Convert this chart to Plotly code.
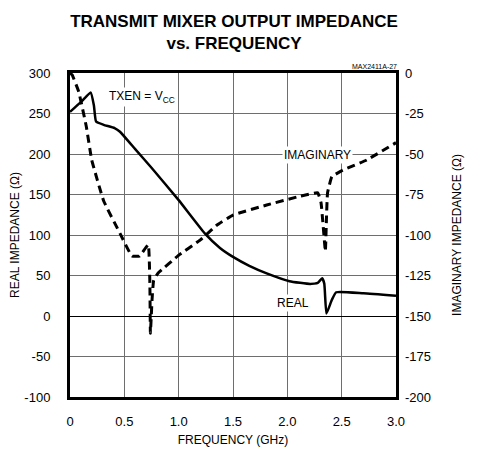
import plotly.graph_objects as go

# Real impedance (left axis, ohms) vs frequency (GHz)
real_freq = [0.0, 0.10, 0.19, 0.22, 0.24, 0.31, 0.41, 0.46, 0.60, 0.75, 1.00, 1.24, 1.38, 1.50, 1.65, 1.81, 2.02, 2.21, 2.28, 2.32, 2.34, 2.36, 2.41, 2.45, 2.70, 3.00]
real_vals = [252, 264, 276, 260, 240, 236, 232, 227.5, 206, 183, 143, 102, 84, 73, 62, 52.7, 43, 39.5, 41, 46.5, 40, 3, 20, 29.3, 28, 25]

# Imaginary impedance (right axis, ohms) vs frequency (GHz)
imag_freq = [0.0, 0.02, 0.08, 0.15, 0.20, 0.31, 0.46, 0.57, 0.64, 0.72, 0.735, 0.74, 0.755, 0.77, 0.81, 1.01, 1.20, 1.35, 1.50, 1.81, 2.12, 2.28, 2.31, 2.35, 2.36, 2.37, 2.41, 2.51, 2.73, 3.00]
imag_vals = [0.0, -1.2, -11.5, -33, -53.7, -79, -99, -113, -113, -106, -130, -160.7, -140, -128, -123.6, -112, -103, -94, -87.7, -81.5, -76, -74, -80, -110, -90, -74, -64, -60, -53.7, -43]

# Tick labels
x_ticks = [0, 0.5, 1.0, 1.5, 2.0, 2.5, 3.0]
x_ticktext = ["0", "0.5", "1.0", "1.5", "2.0", "2.5", "3.0"]
y_ticks = [300, 250, 200, 150, 100, 50, 0, -50, -100]
y_ticktext = ["300", "250", "200", "150", "100", "50", "0", "-50", "-100"]
y2_ticks = [0, -25, -50, -75, -100, -125, -150, -175, -200]
y2_ticktext = ["0", "-25", "-50", "-75", "-100", "-125", "-150", "-175", "-200"]

fig = go.Figure()
fig.add_trace(go.Scatter(x=real_freq, y=real_vals, mode="lines",
                         line=dict(color="black", width=2.5, shape="spline", smoothing=0.4),
                         showlegend=False, yaxis="y"))
fig.add_trace(go.Scatter(x=imag_freq, y=imag_vals, mode="lines",
                         line=dict(color="black", width=3, dash="8px,5px", shape="spline", smoothing=0.3),
                         showlegend=False, yaxis="y2"))

font_family = "Liberation Sans, Arial, sans-serif"
W, H = 461, 439

fig.update_layout(
    width=W, height=H,
    margin=dict(l=62, r=73, t=65, b=50),
    paper_bgcolor="white", plot_bgcolor="white",
    font=dict(family=font_family, size=12, color="black"),
    title=dict(text="<b>TRANSMIT MIXER OUTPUT IMPEDANCE<br>vs. FREQUENCY</b>",
               x=226 / W, xanchor="center", y=1 - 19 / H, yanchor="top",
               font=dict(family=font_family, size=17, color="black")),
    xaxis=dict(range=[0, 3.0], tickvals=x_ticks, ticktext=x_ticktext,
               showgrid=True, gridcolor="#6e6e6e", gridwidth=1,
               showline=True, linecolor="black", linewidth=3, mirror=True,
               ticks="", zeroline=False, ticklabelstandoff=10, automargin=False,
               tickfont=dict(size=13),
               title=dict(text="FREQUENCY (GHz)", font=dict(size=12), standoff=19)),
    yaxis=dict(range=[-100, 300], tickvals=y_ticks, ticktext=y_ticktext,
               showgrid=True, gridcolor="#6e6e6e", gridwidth=1,
               showline=True, linecolor="black", linewidth=3, mirror=True,
               ticks="", zeroline=True, zerolinecolor="black", zerolinewidth=1,
               ticklabelstandoff=14, tickfont=dict(size=13), automargin=False,
               title=dict(text="REAL IMPEDANCE (Ω)", font=dict(size=12), standoff=3)),
    yaxis2=dict(range=[-200, 0], tickvals=y2_ticks, ticktext=y2_ticktext,
                overlaying="y", side="right", automargin=False,
                showgrid=False, zeroline=False, ticks="",
                ticklabelstandoff=8, tickfont=dict(size=13),
                title=dict(text="IMAGINARY IMPEDANCE (Ω)", font=dict(size=12), standoff=22)),
    annotations=[
        dict(text="TXEN = V<sub>CC</sub>", x=0.34, y=270, xref="x", yref="y",
             xanchor="left", yanchor="middle", showarrow=False,
             font=dict(size=12), bgcolor="white"),
        dict(text="IMAGINARY", x=2.28, y=-50.6, xref="x", yref="y2",
             xanchor="center", yanchor="middle", showarrow=False,
             font=dict(size=12), bgcolor="white"),
        dict(text="REAL", x=2.05, y=16, xref="x", yref="y",
             xanchor="center", yanchor="middle", showarrow=False,
             font=dict(size=12), bgcolor="white"),
        dict(text="MAX2411A-27", x=1.0, y=1.0, xref="paper", yref="paper",
             xanchor="right", yanchor="bottom", showarrow=False, yshift=1, xshift=3,
             font=dict(size=7)),
    ],
)

fig.write_html("out.html")
